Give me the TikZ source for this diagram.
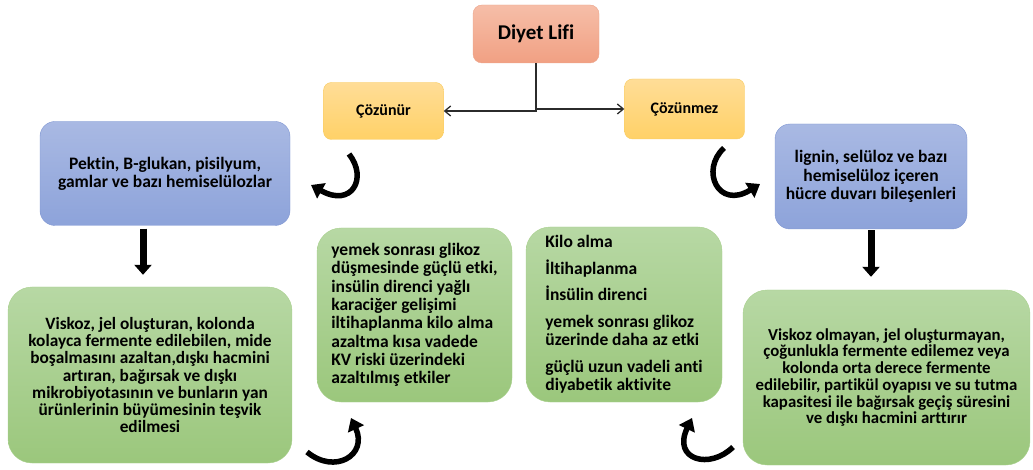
\documentclass[tikz,border=0pt]{standalone}
\usepackage{fontspec}
\setmainfont{Carlito}[Ligatures={TeX,NoCommon}]
\usepackage{xcolor}
\usepackage{tikz}
\usetikzlibrary{arrows.meta, positioning, calc}
\definecolor{rootTop}{HTML}{F6BEA8}
\definecolor{rootBot}{HTML}{F1A083}
\definecolor{rootLine}{HTML}{EBA58C}
\definecolor{kindTop}{HTML}{FFDD97}
\definecolor{kindBot}{HTML}{FFD167}
\definecolor{kindLine}{HTML}{F7CB60}
\definecolor{srcTop}{HTML}{A9B9E3}
\definecolor{srcBot}{HTML}{8DA3DA}
\definecolor{srcLine}{HTML}{7F96D2}
\definecolor{effTop}{HTML}{B7D8A4}
\definecolor{effBot}{HTML}{9BC77C}
\definecolor{effLine}{HTML}{A9D08E}
\definecolor{linkGray}{HTML}{2B2B2B}
\tikzset{
  rootbox/.style = {rectangle, rounded corners=9pt, draw=rootLine, thin,
                    top color=rootTop, bottom color=rootBot,
                    minimum width=126pt, minimum height=58pt,
                    font=\bfseries\fontsize{21}{24}\selectfont},
  kindbox/.style = {rectangle, rounded corners=8pt, draw=kindLine, thin,
                    top color=kindTop, bottom color=kindBot,
                    minimum width=120pt, minimum height=57pt,
                    font=\bfseries\fontsize{16}{18}\selectfont},
  srcbox/.style  = {rectangle, rounded corners=15pt, draw=srcLine, thin,
                    top color=srcTop, bottom color=srcBot,
                    minimum height=104pt, align=center, inner xsep=3pt,
                    font=\bfseries\fontsize{17.5}{18.3}\selectfont},
  effbox/.style  = {rectangle, rounded corners=24pt, draw=effLine, thin,
                    top color=effTop, bottom color=effBot,
                    minimum height=175pt, align=center, inner xsep=1pt,
                    font=\bfseries\fontsize{17.3}{17.2}\selectfont},
  flow/.style    = {-{Straight Barb[length=6pt,width=10pt]}, line width=1.3pt,
                    draw=linkGray},
  bigdown/.style = {-{Triangle[width=17pt,length=10pt]}, line width=7pt},
  curlarrow/.style = {-{Triangle[width=17pt,length=12pt]}, line width=5.5pt},
}

\begin{document}
\begin{tikzpicture}[x=1pt, y=-1pt]
  \useasboundingbox (0,0) rectangle (1033,470);

  \node[rootbox] (lifi) at (536,34) {Diyet Lifi};
  \node[kindbox] (coz) at (383.5,111) {Çözünür};
  \node[kindbox, minimum height=60pt] (cozmez) at (684.5,109) {Çözünmez};

  \draw[flow] (lifi.south) |- (coz.east);
  \draw[flow] (lifi.south) |- (cozmez.west);

  \node[srcbox, minimum width=250pt] (solsrc) at (165,173.5)
    {Pektin, B-glukan, pisilyum,\\gamlar ve bazı hemiselülozlar};
  \node[srcbox, minimum width=192pt, minimum height=105pt] (inssrc) at (871,176.5)
    {lignin, selüloz ve bazı\\hemiselüloz içeren\\hücre duvarı bileşenleri};

  \node[effbox, minimum width=284pt, minimum height=176pt] (soleff) at (150,375)
    {Viskoz, jel oluşturan, kolonda\\kolayca fermente edilebilen, mide\\
     boşalmasını azaltan,dışkı hacmini\\artıran, bağırsak ve dışkı\\
     mikrobiyotasının ve bunların yan\\ürünlerinin büyümesinin teşvik\\edilmesi};
  \node[effbox, minimum width=287pt,
        font=\bfseries\fontsize{16.8}{16.7}\selectfont] (inseff) at (886.5,377.5)
    {Viskoz olmayan, jel oluşturmayan,\\çoğunlukla fermente edilemez veya\\
     kolonda orta derece fermente\\edilebilir, partikül oyapısı ve su tutma\\
     kapasitesi ile bağırsak geçiş süresini\\ve dışkı hacmini arttırır};

  % health effects
  \node[effbox, align=left, minimum width=195pt, minimum height=174pt,
        font=\bfseries\fontsize{17.5}{18.3}\selectfont] (solfx) at (414.5,315)
    {yemek sonrası glikoz\\düşmesinde güçlü etki,\\insülin direnci yağlı\\
     karaciğer gelişimi\\iltihaplanma kilo alma\\azaltma kısa vadede\\
     KV riski üzerindeki\\azaltılmış etkiler};
  \node[effbox, align=left, minimum width=196pt,
        font=\bfseries\fontsize{17.5}{18.3}\selectfont] (insfx) at (624,314.5)
    {Kilo alma\\[8.4pt]İltihaplanma\\[8.4pt]İnsülin direnci\\[8.4pt]
     yemek sonrası glikoz\\üzerinde daha az etki\\[8.4pt]
     güçlü uzun vadeli anti\\diyabetik aktivite};

  \draw[bigdown] ([xshift=-22pt,yshift=-3pt]solsrc.south)
    -- ([xshift=-7pt,yshift=12pt]soleff.north);
  \draw[bigdown] ([yshift=-1pt]inssrc.south)
    -- ([xshift=-15.5pt,yshift=13pt]inseff.north);

  % curled arrows
  \coordinate (c1a) at (349,154);
  \coordinate (c1b) at (311,185);
  \coordinate (c2a) at (724,148);
  \coordinate (c2b) at (760,184);
  \coordinate (c3a) at (307,452);
  \coordinate (c3b) at (351,418);
  \coordinate (c4a) at (733,447);
  \coordinate (c4b) at (692,418);
  \draw[curlarrow] (c1a) .. controls (368,178) and (352,208) .. (c1b);
  \draw[curlarrow] (c2a) .. controls (700,170) and (718,210) .. (c2b);
  \draw[curlarrow] (c3a) .. controls (335,475) and (368,455) .. (c3b);
  \draw[curlarrow] (c4a) .. controls (710,470) and (672,460) .. (c4b);
\end{tikzpicture}
\end{document}
